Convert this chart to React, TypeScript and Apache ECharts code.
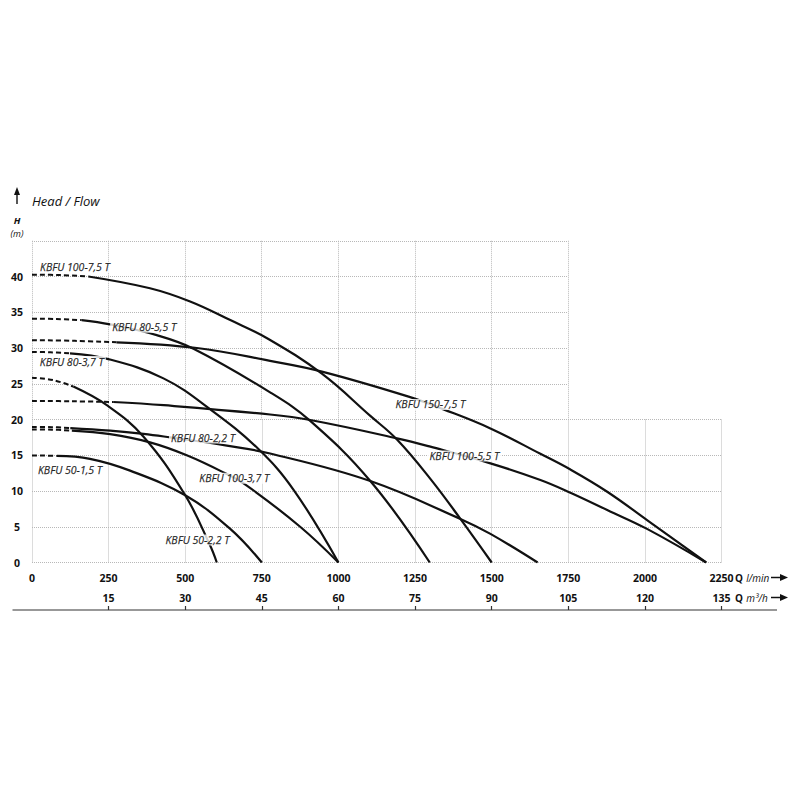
import { useEffect, useRef } from 'react';
import * as echarts from 'echarts';

// tick labels of the second flow axis (m3/h), at the same spots as 250, 500 ... l/min
const m3hTicks = [15, 30, 45, 60, 75, 90, 105, 120, 135];

// curves: [Q l/min, H m]; the dashed part is the start of each curve
const k100_75Dash = [[0, 40.25], [90, 40.2], [184, 40.0]];
const k100_75 = [[184, 40.0], [385, 38.35], [516, 36.5], [647, 33.9], [770, 31.3], [946, 26.4], [1104, 20.5], [1191, 17.2], [1300, 11.7], [1398, 6.1], [1500, 0]];

const k80_55Dash = [[0, 34.1], [80, 34.05], [162, 33.9]];
const k80_55 = [[162, 33.9], [255, 33.3], [407, 31.8], [527, 29.9], [777, 23.8], [908, 19.8], [1104, 11.4], [1298, 0]];

const k150_75Dash = [[0, 31.1], [140, 31.0], [276, 30.8]];
const k150_75 = [[276, 30.8], [538, 30.0], [777, 28.2], [946, 26.7], [1229, 23.2], [1341, 21.45], [1496, 18.75], [1659, 15.2], [1757, 13.0], [1877, 9.9], [2007, 5.94], [2200, 0]];

const k100_55Dash = [[0, 22.6], [130, 22.55], [265, 22.45]];
const k100_55 = [[265, 22.45], [430, 22.0], [777, 20.7], [908, 19.93], [1191, 17.37], [1300, 16.2], [1496, 13.87], [1659, 11.54], [1757, 9.76], [1877, 7.34], [2007, 4.7], [2200, 0]];

const k80_37Dash = [[0, 29.45], [60, 29.4], [124, 29.25]];
const k80_37 = [[124, 29.25], [249, 28.45], [429, 25.75], [581, 21.45], [738, 15.9], [853, 10.2], [1000, 0]];

const k100_37Dash = [[0, 18.6], [65, 18.58], [130, 18.45]];
const k100_37 = [[130, 18.45], [255, 17.95], [385, 16.8], [505, 15.0], [625, 12.6], [701, 10.75], [875, 5.0], [1000, 0]];

const k80_22Dash = [[0, 18.95], [65, 18.93], [125, 18.8]];
const k80_22 = [[125, 18.8], [255, 18.45], [364, 18.0], [451, 17.5], [636, 16.35], [777, 15.25], [1104, 11.4], [1398, 6.1], [1496, 4.0], [1650, 0]];

const k50_15Dash = [[0, 14.95], [40, 14.95], [81, 14.9]];
const k50_15 = [[81, 14.9], [189, 14.5], [320, 12.85], [500, 9.4], [647, 4.7], [750, 0]];

const k50_22Dash = [[0, 25.85], [70, 25.5], [135, 24.6]];
const k50_22 = [[135, 24.6], [244, 22.0], [364, 17.6], [500, 9.4], [581, 2.4], [603, 0]];

const curveNames = [
  'KBFU 100-7,5 T', 'KBFU 80-5,5 T', 'KBFU 150-7,5 T', 'KBFU 100-5,5 T', 'KBFU 80-3,7 T',
  'KBFU 100-3,7 T', 'KBFU 80-2,2 T', 'KBFU 50-1,5 T', 'KBFU 50-2,2 T',
];
const dashedParts = [k100_75Dash, k80_55Dash, k150_75Dash, k100_55Dash, k80_37Dash, k100_37Dash, k80_22Dash, k50_15Dash, k50_22Dash];
const solidParts = [k100_75, k80_55, k150_75, k100_55, k80_37, k100_37, k80_22, k50_15, k50_22];
// where each curve's name sits, in chart units
const labelAnchors = [[140, 41.3], [366, 32.9], [1300, 22.1], [1411, 14.9], [130, 28.1], [660, 11.8], [558, 17.4], [124, 12.9], [540, 3.15]];

const FONT = 'Open Sans';
const INK = '#111';

const gridDots = { show: true, lineStyle: { color: '#b8b8b8', type: 'dotted', width: 1 } };
const bareAxis = {
  type: 'value',
  axisLine: { show: false },
  axisTick: { show: false },
  axisLabel: { show: false },
};

const App = () => {
  const chartRef = useRef<HTMLDivElement>(null);

  useEffect(() => {
    document.body.style.margin = '0';
    const chart = echarts.init(chartRef.current, null, { renderer: 'svg' });

    const lineSeries: any[] = [];
    curveNames.forEach((name, i) => {
      lineSeries.push({
        name: name + ' dashed',
        type: 'line',
        xAxisIndex: 2,
        yAxisIndex: 2,
        data: dashedParts[i],
        smooth: 0.4,
        symbol: 'none',
        silent: true,
        z: 2,
        lineStyle: { color: '#111', width: 2, type: [5, 3] },
      });
      lineSeries.push({
        name,
        type: 'line',
        xAxisIndex: 2,
        yAxisIndex: 2,
        data: solidParts[i],
        smooth: 0.4,
        symbol: 'none',
        silent: true,
        z: 2,
        lineStyle: { color: '#111', width: 2.2 },
      });
    });

    const labelSeries = {
      type: 'scatter',
      xAxisIndex: 2,
      yAxisIndex: 2,
      symbolSize: 0,
      silent: true,
      z: 10,
      data: curveNames.map((name, i) => ({ name, value: labelAnchors[i] })),
      label: {
        show: true,
        position: 'inside',
        formatter: '{b}',
        fontFamily: FONT,
        fontStyle: 'italic',
        fontSize: 10.5,
        lineHeight: 11,
        color: '#000',
        textBorderColor: '#000',
        textBorderWidth: 0.25,
        backgroundColor: '#fff',
        padding: [0, 2],
      },
    };

    const tickLabel = {
      show: true,
      color: INK,
      fontFamily: FONT,
      fontWeight: 'bold',
      fontSize: 10.5,
      formatter: (v: number) => String(v),
    };

    const unitRich = {
      q: { fontFamily: FONT, fontWeight: 'bold', fontSize: 10, fill: INK },
      u: { fontFamily: FONT, fontStyle: 'italic', fontSize: 10, fill: INK },
    };

    chart.setOption({
      animation: false,
      backgroundColor: '#fff',
      grid: [
        { left: 32, top: 419.5, width: 689.5, height: 143, outerBoundsMode: 'none' },
        { left: 32, top: 240.75, width: 535.9, height: 178.75, outerBoundsMode: 'none' },
        { left: 32, top: 240.75, width: 689.5, height: 321.75, outerBoundsMode: 'none' },
      ],
      xAxis: [
        { ...bareAxis, gridIndex: 0, min: 0, max: 2250, interval: 250, splitLine: gridDots },
        { ...bareAxis, gridIndex: 1, min: 0, max: 1750, interval: 250, splitLine: gridDots },
        {
          ...bareAxis,
          gridIndex: 2,
          min: 0,
          max: 2250,
          interval: 250,
          splitLine: { show: false },
          axisLabel: { ...tickLabel, margin: 10 },
        },
        {
          type: 'value',
          gridIndex: 2,
          position: 'bottom',
          offset: 47.5,
          min: 0,
          max: 135,
          interval: 15,
          splitLine: { show: false },
          axisLine: { show: false },
          axisTick: {
            show: true,
            inside: true,
            length: 4,
            customValues: m3hTicks,
            lineStyle: { color: '#333', width: 1.2 },
          },
          axisLabel: { ...tickLabel, inside: true, margin: 7, customValues: m3hTicks },
        },
      ],
      yAxis: [
        { ...bareAxis, gridIndex: 0, min: 0, max: 20, interval: 5, splitLine: gridDots },
        { ...bareAxis, gridIndex: 1, min: 20, max: 45, interval: 5, splitLine: gridDots },
        {
          ...bareAxis,
          gridIndex: 2,
          min: 0,
          max: 45,
          interval: 5,
          splitLine: { show: false },
          axisLabel: {
            ...tickLabel,
            align: 'center',
            margin: 15,
            formatter: (v: number) => (v === 45 ? '' : String(v)),
          },
        },
      ],
      series: [...lineSeries, labelSeries],
      graphic: [
        // up arrow and title
        { type: 'line', shape: { x1: 17, y1: 204, x2: 17, y2: 193 }, style: { stroke: INK, lineWidth: 1.4 } },
        { type: 'polygon', shape: { points: [[17, 187], [14, 195], [20, 195]] }, style: { fill: INK } },
        {
          type: 'text',
          x: 32,
          y: 201,
          style: { text: 'Head / Flow', fontFamily: FONT, fontStyle: 'italic', fontSize: 13, fill: INK, verticalAlign: 'middle' },
        },
        {
          type: 'text',
          x: 17,
          y: 220.5,
          style: { text: 'H', fontFamily: FONT, fontStyle: 'italic', fontWeight: 'bold', fontSize: 9.5, fill: INK, align: 'center', verticalAlign: 'middle' },
        },
        {
          type: 'text',
          x: 17,
          y: 233.5,
          style: { text: '(m)', fontFamily: FONT, fontStyle: 'italic', fontSize: 9, fill: INK, align: 'center', verticalAlign: 'middle' },
        },
        // units of the two flow axes
        {
          type: 'text',
          x: 735,
          y: 577.5,
          style: { text: '{q|Q} {u|l/min}', rich: unitRich, verticalAlign: 'middle' },
        },
        { type: 'line', shape: { x1: 771, y1: 577.5, x2: 781, y2: 577.5 }, style: { stroke: INK, lineWidth: 1.5 } },
        { type: 'polygon', shape: { points: [[780, 574], [788, 577.5], [780, 581]] }, style: { fill: INK } },
        {
          type: 'text',
          x: 735,
          y: 597.5,
          style: { text: '{q|Q} {u|m³/h}', rich: unitRich, verticalAlign: 'middle' },
        },
        { type: 'line', shape: { x1: 771, y1: 597.5, x2: 781, y2: 597.5 }, style: { stroke: INK, lineWidth: 1.5 } },
        { type: 'polygon', shape: { points: [[780, 594], [788, 597.5], [780, 601]] }, style: { fill: INK } },
        // long base line under the m3/h scale
        { type: 'line', shape: { x1: 12.5, y1: 610, x2: 777, y2: 610 }, style: { stroke: '#333', lineWidth: 1.2 } },
      ],
    });

    return () => {
      chart.dispose();
    };
  }, []);

  return <div ref={chartRef} style={{ width: '800px', height: '800px' }} />;
};

export default App;
